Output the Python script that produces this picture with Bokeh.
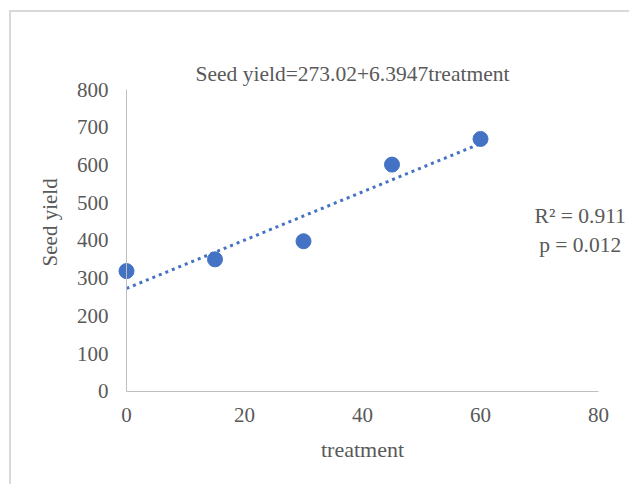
import math
from bokeh.plotting import figure
from bokeh.models import Range1d, FixedTicker, Label
from bokeh.embed import file_html
from bokeh.resources import INLINE

treatment = [0, 15, 30, 45, 60]
seed_yield = [319, 350, 398, 601, 669]
intercept = 273.02
slope = 6.3947
x_ticks = [0, 20, 40, 60, 80]
y_ticks = [0, 100, 200, 300, 400, 500, 600, 700, 800]
equation_text = "Seed yield=273.02+6.3947treatment"
r2_text = "R² = 0.911"
p_text = "p = 0.012"
x_title = "treatment"
y_title = "Seed yield"

FONT = "Liberation Serif"
TXT = "#595959"
BLUE = "#4472C4"

p = figure(width=620, height=474, output_backend="svg", toolbar_location=None,
           x_range=Range1d(-19.49, 85.59), y_range=Range1d(-251.7, 1004.0),
           min_border_left=0, min_border_right=0, min_border_top=0, min_border_bottom=0)
p.styles = {"border-left": "2px solid #d9d9d9", "border-top": "2px solid #d9d9d9",
            "margin-left": "9px", "margin-top": "10px"}
p.outline_line_color = None
p.xgrid.visible = False
p.ygrid.visible = False

for ax in (p.xaxis[0], p.yaxis[0]):
    ax.axis_line_color = "#bfbfbf"
    ax.major_tick_line_color = None
    ax.minor_tick_line_color = None
    ax.major_label_text_font = FONT
    ax.major_label_text_font_size = "21px"
    ax.major_label_text_color = TXT
    ax.fixed_location = 0

p.xaxis.ticker = FixedTicker(ticks=x_ticks)
p.yaxis.ticker = FixedTicker(ticks=y_ticks)
p.xaxis.bounds = (0, 80)
p.yaxis.bounds = (0, 800)
p.xaxis.major_label_standoff = 11
p.yaxis.major_label_standoff = 12

xs = [treatment[0], treatment[-1]]
ys = [intercept + slope * x for x in xs]
p.line(xs, ys, line_color=BLUE, line_width=3, line_dash="3 4")
p.scatter(treatment, seed_yield, size=15, fill_color=BLUE, line_color=BLUE)

def lab(x, y, text, size, angle=0.0):
    p.add_layout(Label(x=x, y=y, text=text, text_font=FONT, text_font_size=size,
                       text_color=TXT, text_align="center", text_baseline="middle",
                       angle=angle))

lab(38.3, 842, equation_text, "21.5px")
lab(76.9, 464, r2_text, "21.5px")
lab(76.9, 389, p_text, "21.5px")
lab(40.0, -153, x_title, "22px")
lab(-12.9, 448, y_title, "21px", angle=math.pi / 2)

open("out.html", "w").write(file_html(p, INLINE))
